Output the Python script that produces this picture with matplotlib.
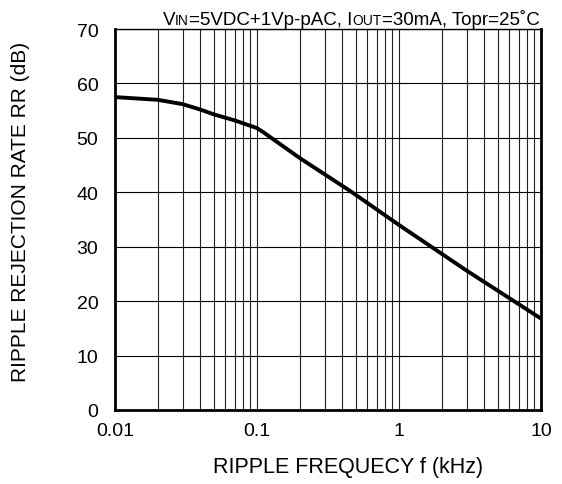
import matplotlib.pyplot as plt
from matplotlib.offsetbox import TextArea, HPacker, AnchoredOffsetbox
from matplotlib.ticker import FixedLocator, LogLocator, NullFormatter

# Ripple rejection vs. frequency
freq_khz = [0.01, 0.02, 0.03, 0.04, 0.05, 0.07, 0.1, 0.11, 0.2, 0.45, 1, 3, 10]
rr_db = [57.5, 57.0, 56.2, 55.2, 54.3, 53.2, 51.8, 51.1, 46.3, 40.3, 34.0, 25.6, 16.8]

x_ticks = [0.01, 0.1, 1, 10]
x_tick_labels = ['0.01', '0.1', '1', '10']
y_ticks = [0, 10, 20, 30, 40, 50, 60, 70]


def main():
    plt.rcParams['font.family'] = ['Liberation Sans', 'DejaVu Sans']
    fig = plt.figure(figsize=(5.62, 4.85), dpi=100)
    ax = fig.add_axes([0.2046, 0.1526, 0.758, 0.7854])

    ax.set_xscale('log')
    ax.set_xlim(0.01, 10)
    ax.set_ylim(0, 70)

    ax.xaxis.set_major_locator(FixedLocator(x_ticks))
    ax.set_xticklabels(x_tick_labels)
    ax.xaxis.set_minor_locator(LogLocator(base=10, subs=range(2, 10)))
    ax.xaxis.set_minor_formatter(NullFormatter())
    ax.set_yticks(y_ticks)

    ax.grid(True, which='both', axis='x', color='#222222', linewidth=0.8)
    ax.grid(True, which='major', axis='y', color='black', linewidth=0.8)
    ax.tick_params(which='both', length=0, labelsize=14)
    ax.tick_params(axis='x', pad=9)
    ax.tick_params(axis='y', pad=12)

    for side in ['left', 'bottom', 'right']:
        ax.spines[side].set_linewidth(2)
    ax.spines['top'].set_linewidth(1)

    ax.plot(freq_khz, rr_db, color='black', linewidth=2.8, solid_capstyle='butt')

    fig.text(348 / 562, 1 - 468 / 485, 'RIPPLE FREQUECY f (kHz)', fontsize=15.5,
             ha='center', va='center')
    fig.text(21 / 562, 1 - 212 / 485, 'RIPPLE REJECTION RATE RR (dB)', fontsize=15,
             ha='center', va='center', rotation=90)

    # condition text with small caps subscripts
    big = dict(fontsize=13.5)
    small = dict(fontsize=10)
    parts = [TextArea('V', textprops=big), TextArea('IN', textprops=small),
             TextArea('=5VDC+1Vp-pAC, I', textprops=big), TextArea('OUT', textprops=small),
             TextArea('=30mA, Topr=25˚C', textprops=big)]
    box = HPacker(children=parts, align='baseline', pad=0, sep=0)
    anchored = AnchoredOffsetbox(loc='lower right', child=box, pad=0, borderpad=0.1,
                                 frameon=False, bbox_to_anchor=(1.0, 1.0),
                                 bbox_transform=ax.transAxes)
    ax.add_artist(anchored)

    fig.savefig('out.png', dpi=100)


if __name__ == '__main__':
    main()
